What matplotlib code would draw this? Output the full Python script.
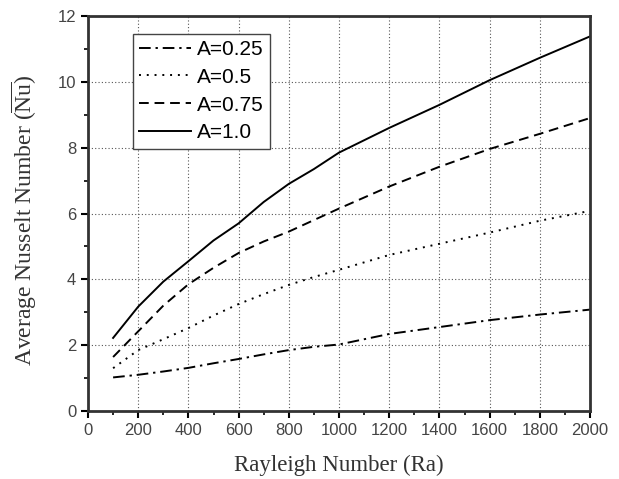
import numpy as np
import matplotlib.pyplot as plt
from matplotlib.ticker import MultipleLocator

# Rayleigh number sample points
ra = [100, 200, 300, 400, 500, 600, 700, 800, 900, 1000,
      1200, 1400, 1600, 1800, 2000]

# average Nusselt number for each aspect ratio
nu_a025 = [1.02, 1.10, 1.20, 1.31, 1.45, 1.58, 1.72, 1.85, 1.95, 2.02,
           2.34, 2.55, 2.76, 2.93, 3.08]
nu_a050 = [1.30, 1.85, 2.18, 2.52, 2.90, 3.25, 3.55, 3.83, 4.07, 4.29,
           4.74, 5.08, 5.42, 5.78, 6.08]
nu_a075 = [1.64, 2.42, 3.20, 3.85, 4.35, 4.80, 5.15, 5.45, 5.80, 6.15,
           6.82, 7.42, 7.96, 8.42, 8.90]
nu_a100 = [2.22, 3.17, 3.93, 4.55, 5.18, 5.70, 6.35, 6.90, 7.35, 7.85,
           8.60, 9.30, 10.05, 10.73, 11.38]

labels = ['A=0.25', 'A=0.5', 'A=0.75', 'A=1.0']

plt.rcParams['mathtext.fontset'] = 'custom'
plt.rcParams['mathtext.rm'] = 'Liberation Serif'

fig = plt.figure(figsize=(6.19, 4.79), dpi=100)
ax = fig.add_axes([88 / 619, 68 / 479, 502 / 619, 395 / 479])

ax.plot(ra, nu_a025, color='black', lw=1.4, ls=(0, (6, 2.5, 1.2, 2.5)), label=labels[0])
ax.plot(ra, nu_a050, color='black', lw=1.4, ls=(0, (1, 3)), label=labels[1])
ax.plot(ra, nu_a075, color='black', lw=1.4, ls=(0, (5, 3)), label=labels[2])
ax.plot(ra, nu_a100, color='black', lw=1.4, ls='-', label=labels[3])

ax.set_xlim(0, 2000)
ax.set_ylim(0, 12)
ax.xaxis.set_major_locator(MultipleLocator(200))
ax.xaxis.set_minor_locator(MultipleLocator(100))
ax.yaxis.set_major_locator(MultipleLocator(2))
ax.yaxis.set_minor_locator(MultipleLocator(1))
ax.tick_params(which='major', direction='out', length=5, width=1.5,
               labelsize=12, labelcolor='#444444')
ax.tick_params(which='minor', direction='out', length=3, width=1.2)
for tl in ax.get_xticklabels() + ax.get_yticklabels():
    tl.set_family('Liberation Sans')

ax.grid(True, which='major', color='#555555', ls=(0, (1, 2)), lw=0.8)
for sp in ax.spines.values():
    sp.set_linewidth(2)
    sp.set_color('#333333')

ax.set_xlabel('Rayleigh Number (Ra)', family='Liberation Serif', fontsize=16.5, color='#333333', labelpad=12)
ax.set_ylabel(r'Average Nusselt Number ($\overline{\mathrm{Nu}}$)', family='Liberation Serif',
              fontsize=17, color='#333333')
ax.yaxis.set_label_coords(-0.097, 0.484)

leg = ax.legend(loc='upper left', bbox_to_anchor=(0.089, 0.955), prop={'family': 'Liberation Sans', 'size': 15},
                fancybox=False, edgecolor='#444444', framealpha=1, handlelength=2.5,
                handletextpad=0.3, borderpad=0.3, labelspacing=0.42, borderaxespad=0)
leg.get_frame().set_linewidth(1.0)

plt.savefig('out.png', dpi=100)
